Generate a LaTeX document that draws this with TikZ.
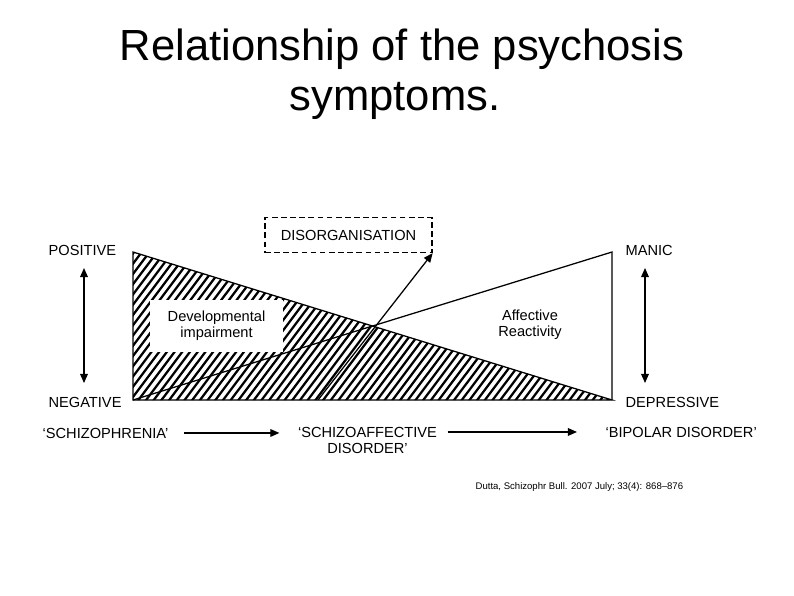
\documentclass[tikz,border=0pt]{standalone}
\usepackage{fontspec}
\setmainfont{Liberation Sans}
\usetikzlibrary{arrows.meta,positioning,calc}
\tikzset{
  lbl/.style={inner sep=0pt, font=\fontsize{10.4}{11.4}\selectfont},
  tip/.style={-{Triangle[length=6.5pt,width=5.5pt]}},
  twotip/.style={{Triangle[length=6.5pt,width=5.5pt]}-{Triangle[length=6.5pt,width=5.5pt]}},
}
\begin{document}
\begin{tikzpicture}[x=0.025cm, y=-0.025cm, line width=0.9pt]
    \useasboundingbox (0,0) rectangle (794,595);

    % title
    \node (title) [anchor=base, font=\fontsize{31}{35}\selectfont] at (402, 60) {Relationship of the psychosis};
    \node (title2) [anchor=base, font=\fontsize{31}{35}\selectfont] at (395, 110) {symptoms.};

    % corners of the two triangles
    \coordinate (tl) at (133, 252);
    \coordinate (bl) at (133, 400);
    \coordinate (br) at (612, 400);
    \coordinate (tr) at (612, 252);

    % hatching
    \begin{scope}
      \clip (tl) -- (bl) -- (br) -- cycle;
      \foreach \x in {0,7.7,...,620}
        \draw[line width=1.6pt] (\x, 410) -- (\x+130, 237);
    \end{scope}
    \draw (tl) -- (bl) -- (br) -- cycle;
    \draw (bl) -- (tr) -- (br);

    \node (dev) [fill=white, inner sep=0pt, minimum width=133*0.025cm, minimum height=52*0.025cm,
      align=center, font=\fontsize{10.4}{11.6}\selectfont] at (216.5, 326) {Developmental\\impairment};
    \node (aff) [lbl, align=center, font=\fontsize{10.4}{11.6}\selectfont] at (530, 325) {Affective\\Reactivity};

    \node (dis) [draw, dashed, dash pattern=on 4pt off 2.5pt, minimum width=167*0.025cm, minimum height=35*0.025cm,
      font=\fontsize{10.4}{12}\selectfont] at (348.5, 235) {DISORGANISATION};
    \coordinate (foot) at (318, 400);
    \draw[tip] (foot) -- (dis.south east);

    % left and right axes
    \node (pos) [lbl, anchor=base west] at (48, 255.5) {POSITIVE};
    \node (neg) [lbl, anchor=base west] at (48, 407) {NEGATIVE};
    \node (man) [lbl, anchor=base west] at (625, 255.5) {MANIC};
    \node (dep) [lbl, anchor=base west] at (625, 407) {DEPRESSIVE};
    \coordinate (la) at (84, 268);
    \coordinate (lb) at (84, 383);
    \coordinate (ra) at (645, 268);
    \coordinate (rb) at (645, 383);
    \draw[twotip] (la) -- (lb);
    \draw[twotip] (ra) -- (rb);

    % bottom row
    \node (schiz) [lbl, anchor=base west] at (42, 438) {`SCHIZOPHRENIA'};
    \node (schaff) [lbl, anchor=base] at (367.5, 437) {`SCHIZOAFFECTIVE};
    \node (schaff2) [lbl, anchor=base] at (367.5, 453) {DISORDER'};
    \node (bip) [lbl, anchor=base west] at (605, 437) {`BIPOLAR DISORDER'};
    \draw[tip, shorten <=15*0.025cm, shorten >=18*0.025cm] (schiz.east) -- (schiz.east -| schaff.west);
    \draw[tip, shorten <=10*0.025cm, shorten >=28*0.025cm] (schaff.east) -- (schaff.east -| bip.west);

    \node (cite) [lbl, anchor=west, font=\fontsize{6.8}{8}\selectfont] at (475, 487) {Dutta, Schizophr Bull. 2007 July; 33(4): 868--876};
\end{tikzpicture}
\end{document}
